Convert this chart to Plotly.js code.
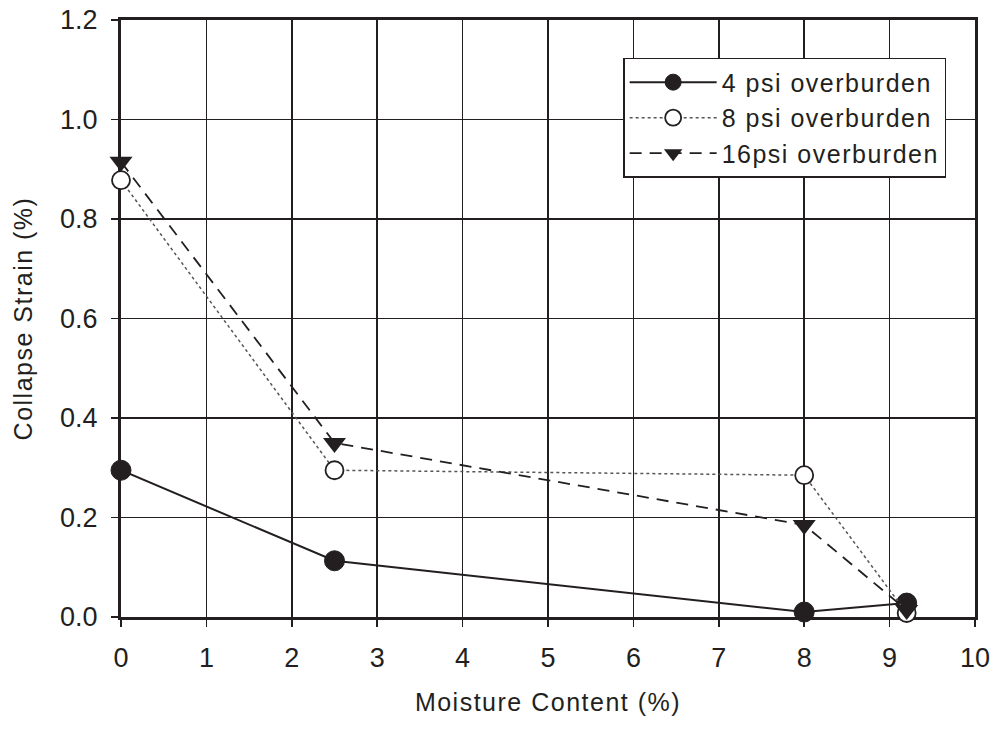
<!DOCTYPE html>
<html>
<head>
<meta charset="utf-8">
<script src="https://cdn.plot.ly/plotly-3.0.1.min.js"></script>
<style>
html,body{margin:0;padding:0;background:#fff;}
#chart{width:997px;height:732px;}
text.legendtext{letter-spacing:1.5px;}
text.xtitle,text.ytitle{letter-spacing:1.5px;}
</style>
</head>
<body>
<div id="chart"></div>
<script>
var moisture = [0, 2.5, 8, 9.2];
var strain4psi = [0.295, 0.113, 0.010, 0.028];
var strain8psi = [0.878, 0.295, 0.285, 0.008];
var strain16psi = [0.915, 0.350, 0.185, 0.014];
var seriesNames = ["4 psi overburden", "8 psi overburden", "16psi overburden"];
var xTicks = [0,1,2,3,4,5,6,7,8,9,10];
var yTicks = [0,0.2,0.4,0.6,0.8,1.0,1.2];

var ink = "#231f20";
var traces = [
  {x: moisture, y: strain4psi, name: seriesNames[0], mode: "lines+markers", cliponaxis: false,
   line: {color: ink, width: 2, dash: "solid"},
   marker: {symbol: "circle", size: 20, color: ink, line: {color: ink, width: 1}}},
  {x: moisture, y: strain8psi, name: seriesNames[1], mode: "lines+markers", cliponaxis: false,
   line: {color: "#555", width: 1.5, dash: "dot"},
   marker: {symbol: "circle", size: 18, color: "#fff", line: {color: ink, width: 1.8}}},
  {x: moisture, y: strain16psi, name: seriesNames[2], mode: "lines+markers", cliponaxis: false,
   line: {color: ink, width: 1.8, dash: "12px,8px"},
   marker: {symbol: "triangle-down", size: 20, color: ink, line: {color: ink, width: 0}}}
];

var fontFam = "Liberation Sans, Arial, sans-serif";
var fs = 25;
var tfs = 27;
var layout = {
  width: 997, height: 732,
  margin: {l: 121, r: 22, t: 20, b: 115},
  paper_bgcolor: "#fff", plot_bgcolor: "#fff",
  font: {family: fontFam, color: ink, size: fs},
  showlegend: true,
  legend: {x: 0.588, y: 0.836, xanchor: "left", yanchor: "middle",
    bgcolor: "#fff", bordercolor: ink, borderwidth: 1.5,
    font: {family: fontFam, size: fs, color: ink},
    itemwidth: 87, tracegroupgap: 0},
  xaxis: {range: [0, 10], tickmode: "array", tickvals: xTicks, ticktext: xTicks.map(String),
    showline: true, mirror: true, linecolor: ink, linewidth: 3,
    ticks: "outside", ticklen: 7, tickwidth: 1.5, tickcolor: ink,
    showgrid: true, gridcolor: ink, gridwidth: 1.5, zeroline: false,
    layer: "below traces", tickfont: {size: tfs}, ticklabelstandoff: 8,
    title: {text: "Moisture Content (%)", font: {size: fs}, standoff: 22}},
  yaxis: {range: [0, 1.2], tickmode: "array", tickvals: yTicks, ticktext: yTicks.map(function(v){return v.toFixed(1);}),
    showline: true, mirror: true, linecolor: ink, linewidth: 3,
    ticks: "outside", ticklen: 7, tickwidth: 1.5, tickcolor: ink,
    showgrid: true, gridcolor: ink, gridwidth: 1.5, zeroline: false,
    layer: "below traces", tickfont: {size: tfs}, ticklabelstandoff: 8,
    title: {text: "Collapse Strain (%)", font: {size: fs}, standoff: 21}}
};
Plotly.newPlot("chart", traces, layout, {displayModeBar: false, staticPlot: true});
</script>
</body>
</html>
